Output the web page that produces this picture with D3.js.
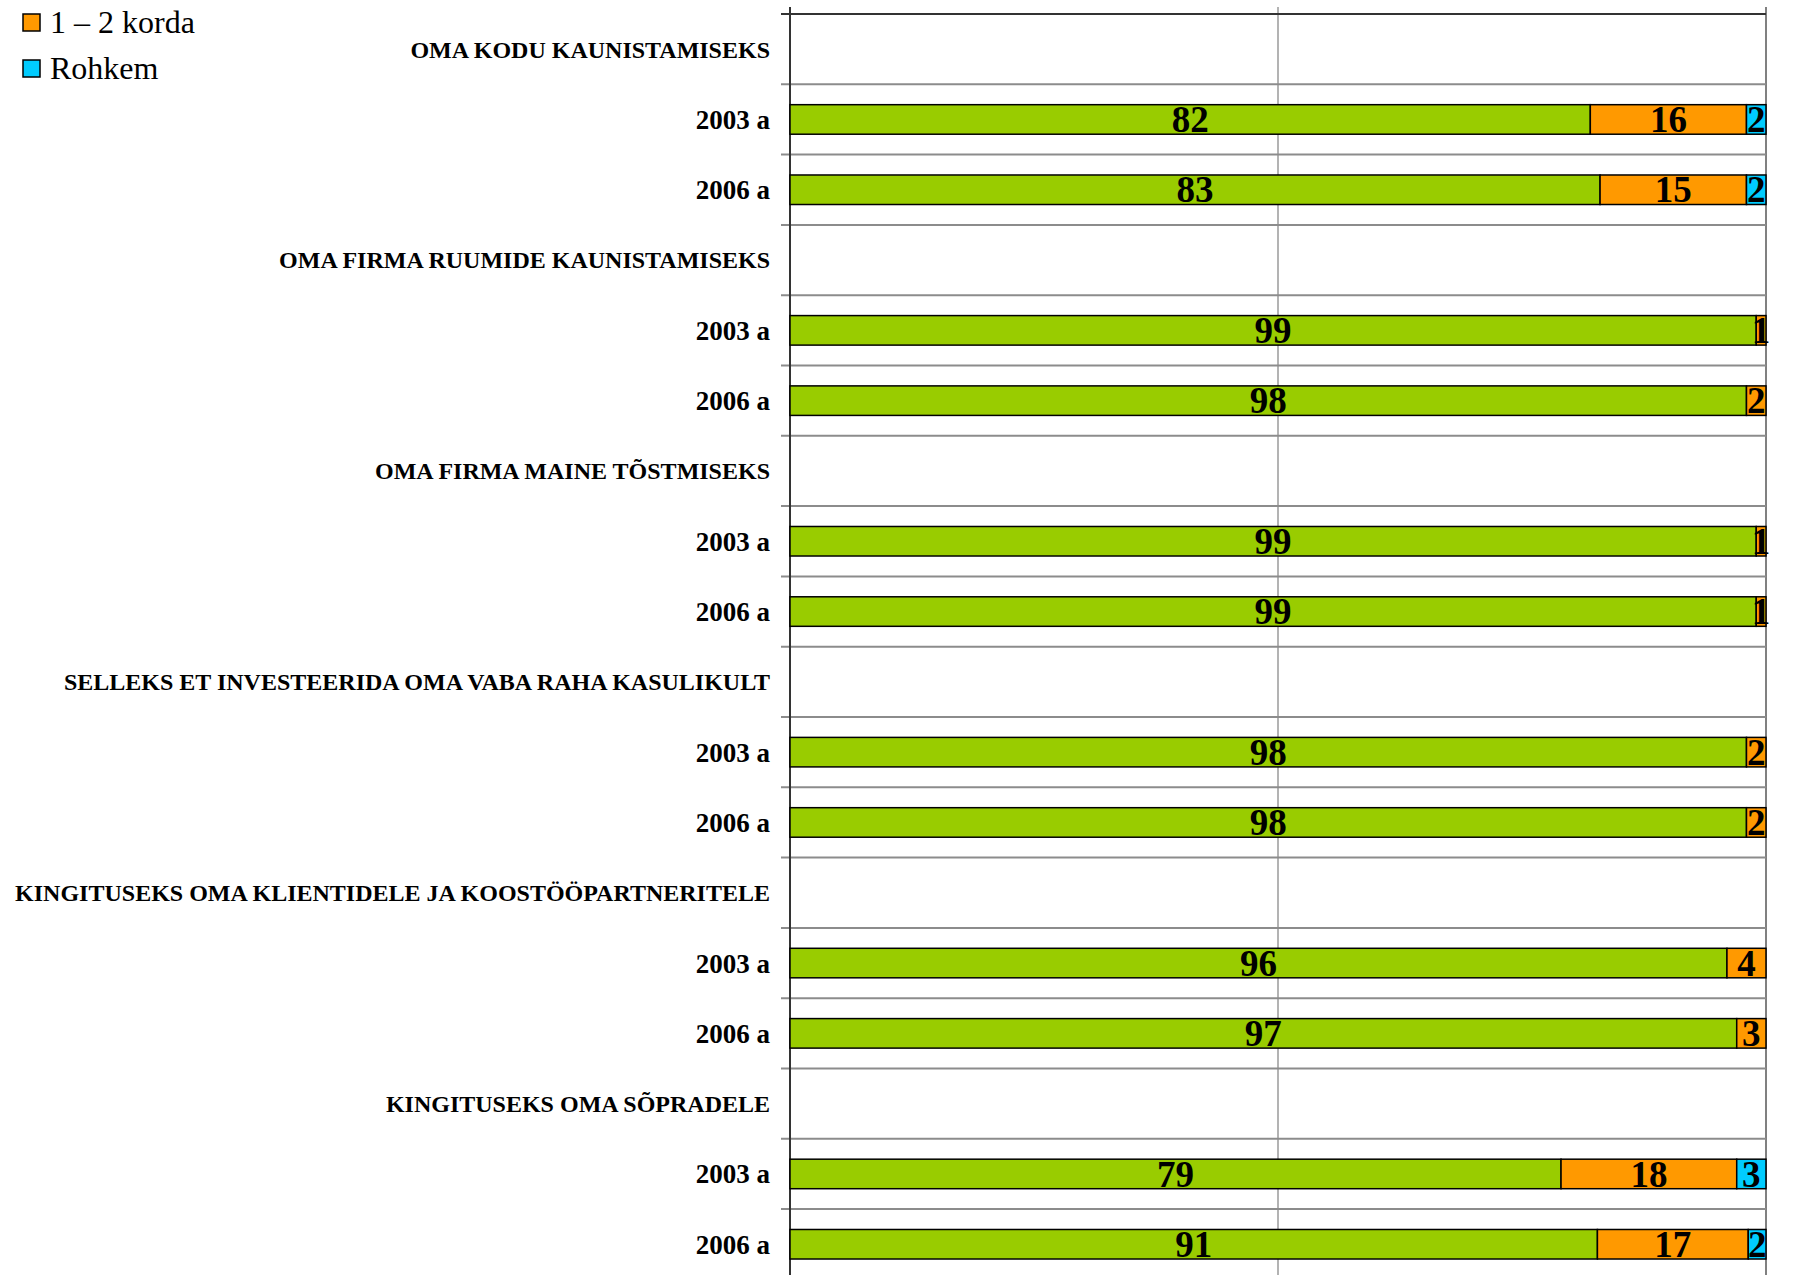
<!DOCTYPE html>
<html>
<head>
<meta charset="utf-8">
<script src="https://cdn.jsdelivr.net/npm/d3@7"></script>
<style>
  body { margin: 0; background: #fff; }
  #chart-area svg { display: block; }
  .row-label { font-family: 'Liberation Serif', 'Times New Roman', serif; font-weight: bold; }
  .legend text { font-family: 'Liberation Serif', 'Times New Roman', serif; }
  .value { font-family: 'Liberation Serif', 'Times New Roman', serif; font-weight: bold; }
</style>
</head>
<body>
<div id="chart-area"></div>
<script>
const groups = [
  'OMA KODU KAUNISTAMISEKS',
  'OMA FIRMA RUUMIDE KAUNISTAMISEKS',
  'OMA FIRMA MAINE TÕSTMISEKS',
  'SELLEKS ET INVESTEERIDA OMA VABA RAHA KASULIKULT',
  'KINGITUSEKS OMA KLIENTIDELE JA KOOSTÖÖPARTNERITELE',
  'KINGITUSEKS OMA SÕPRADELE'
];
const years = ['2003 a', '2006 a'];
const seriesNames = ['Mitte kordagi', '1 – 2 korda', 'Rohkem'];
const colors = ['#99cc00', '#ff9900', '#00ccff'];

// one value per bar, in order 2003/2006 of each group
const never = [82, 83, 99, 98, 99, 99, 98, 98, 96, 97, 79, 91];
const once = [16, 15, 1, 2, 1, 1, 2, 2, 4, 3, 18, 17];
const more = [2, 2, 0, 0, 0, 0, 0, 0, 0, 0, 3, 2];
const xTicks = [0, 50, 100];

const buildRows = () => {
  const rows = [];
  let k = 0;
  groups.forEach((g, gi) => {
    rows.push({ id: `g${gi}`, label: g, header: true });
    years.forEach((yr) => {
      rows.push({ id: `g${gi}-${yr}`, label: yr, header: false, values: [never[k], once[k], more[k]] });
      k++;
    });
  });
  return rows;
};

const drawChart = (rows) => {
  const chartSize = { width: 1800, height: 1275 };
  const plot = { left: 790, right: 1766, top: 14, rowH: 70.3 };

  const svg = d3.select('#chart-area').append('svg')
    .attr('width', chartSize.width)
    .attr('height', chartSize.height);

  const x = d3.scaleLinear()
    .domain([0, 100])
    .range([plot.left, plot.right]);

  const y = d3.scaleBand()
    .domain(rows.map(r => r.id))
    .range([plot.top, plot.top + rows.length * plot.rowH]);

  const bottom = plot.top + rows.length * plot.rowH;

  // vertical gridlines
  svg.append('g').selectAll('line')
    .data(xTicks.slice(1))
    .enter()
    .append('line')
    .attr('x1', d => x(d)).attr('x2', d => x(d))
    .attr('y1', plot.top - 7).attr('y2', bottom)
    .attr('stroke', '#808080')
    .attr('stroke-width', (d, i) => i === 1 ? 2 : 1.2);

  // horizontal gridlines between rows
  svg.append('g').selectAll('line')
    .data(rows.slice(1))
    .enter()
    .append('line')
    .attr('x1', plot.left - 9).attr('x2', plot.right)
    .attr('y1', r => y(r.id)).attr('y2', r => y(r.id))
    .attr('stroke', '#8c8c8c')
    .attr('stroke-width', 2);

  // top axis line + left axis
  svg.append('line')
    .attr('x1', plot.left - 9).attr('x2', plot.right)
    .attr('y1', plot.top).attr('y2', plot.top)
    .attr('stroke', '#333').attr('stroke-width', 2);
  svg.append('line')
    .attr('x1', plot.left).attr('x2', plot.left)
    .attr('y1', plot.top - 7).attr('y2', bottom)
    .attr('stroke', '#333').attr('stroke-width', 2);

  // row labels
  svg.append('g').selectAll('text')
    .data(rows)
    .enter()
    .append('text')
    .attr('class', 'row-label')
    .attr('x', 770)
    .attr('y', r => y(r.id) + y.bandwidth() / 2)
    .attr('dy', '0.35em')
    .attr('text-anchor', 'end')
    .attr('font-size', r => r.header ? 24 : 27)
    .text(r => r.label);

  // stacked bars, each bar normalised to 100 %
  const barRows = rows.filter(r => !r.header);
  const barH = y.bandwidth() * 0.42;
  const segs = [];
  barRows.forEach(r => {
    const total = d3.sum(r.values);
    let acc = 0;
    r.values.forEach((v, i) => {
      segs.push({ id: r.id, s: i, v, x0: acc / total * 100, x1: (acc + v) / total * 100 });
      acc += v;
    });
  });
  const shown = segs.filter(d => d.v > 0);

  const bars = svg.append('g');
  bars.selectAll('rect')
    .data(shown)
    .enter()
    .append('rect')
    .attr('x', d => x(d.x0))
    .attr('width', d => x(d.x1) - x(d.x0))
    .attr('y', d => y(d.id) + (y.bandwidth() - barH) / 2)
    .attr('height', barH)
    .attr('fill', d => colors[d.s])
    .attr('stroke', '#000')
    .attr('stroke-width', 1.5);

  bars.selectAll('text')
    .data(shown)
    .enter()
    .append('text')
    .attr('class', 'value')
    .attr('x', d => (x(d.x0) + x(d.x1)) / 2)
    .attr('y', d => y(d.id) + y.bandwidth() / 2)
    .attr('dy', '0.34em')
    .attr('text-anchor', 'middle')
    .attr('font-size', 37)
    .text(d => d.v);

  // legend (first entry is outside the picture)
  const legend = svg.append('g').attr('class', 'legend');
  const items = seriesNames.slice(1).map((n, i) => ({ name: n, color: colors[i + 1] }));
  const li = legend.selectAll('g')
    .data(items)
    .enter()
    .append('g')
    .attr('transform', (d, i) => `translate(23,${14 + i * 46})`);
  li.append('rect')
    .attr('width', 17).attr('height', 17)
    .attr('fill', d => d.color)
    .attr('stroke', '#000').attr('stroke-width', 1.5);
  li.append('text')
    .attr('x', 27).attr('y', 19)
    .attr('font-size', 32)
    .text(d => d.name);
};

const main = () => {
  drawChart(buildRows());
};
window.onload = main;
</script>
</body>
</html>
